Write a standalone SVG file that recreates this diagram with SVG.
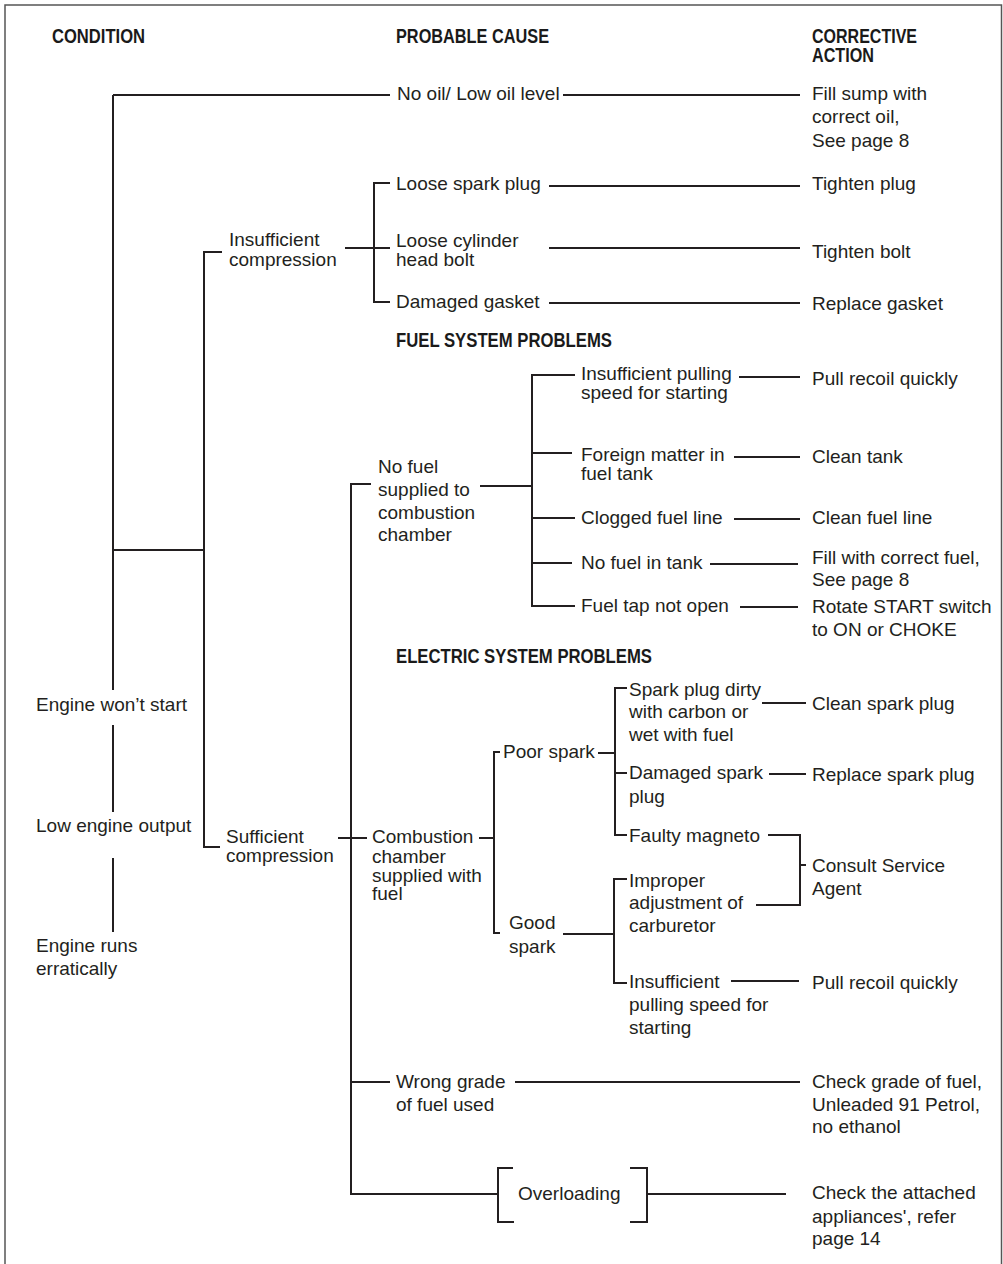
<svg xmlns="http://www.w3.org/2000/svg" width="1003" height="1264" viewBox="0 0 1003 1264">
<style>
.t{font-family:"Liberation Sans",Arial,Helvetica,sans-serif;font-size:19px;fill:#231f20}
.h{font-family:"Liberation Sans",Arial,Helvetica,sans-serif;font-size:20px;font-weight:bold;fill:#1a1a1a}
.c{stroke:#231f20;stroke-width:2;fill:none}
.b{stroke:#555;stroke-width:1.5;fill:none}
</style>
<rect class="b" x="5" y="5" width="996.5" height="1275"/>
<g id="headers">
<text class="h" x="52" y="43" textLength="93" lengthAdjust="spacingAndGlyphs">CONDITION</text>
<text class="h" x="396" y="43" textLength="153" lengthAdjust="spacingAndGlyphs">PROBABLE CAUSE</text>
<text class="h" x="812" y="43" textLength="105" lengthAdjust="spacingAndGlyphs">CORRECTIVE</text>
<text class="h" x="812" y="62" textLength="62" lengthAdjust="spacingAndGlyphs">ACTION</text>
<text class="h" x="396" y="347" textLength="216" lengthAdjust="spacingAndGlyphs">FUEL SYSTEM PROBLEMS</text>
<text class="h" x="396" y="663" textLength="256" lengthAdjust="spacingAndGlyphs">ELECTRIC SYSTEM PROBLEMS</text>
</g>
<g id="connectors">
<path class="c" d="M113,95 V690 M113,725 V812 M113,858 V932 M113,95 H390 M563,95 H800"/>
<path class="c" d="M113,550 H204 M222,252 H204 V847 H220"/>
<path class="c" d="M345,248 H390 M390,183 H374 V302 H390"/>
<path class="c" d="M549,186 H800 M549,248 H800 M549,303 H800"/>
<path class="c" d="M371,484 H351 V1194 H498 M480,486 H532"/>
<path class="c" d="M575,375 H532 V606 H575 M532,453 H572 M532,518 H575 M532,563 H572"/>
<path class="c" d="M739,377 H800 M734,457 H800 M734,519 H800 M710,564 H798 M740,607 H798"/>
<path class="c" d="M338,838 H367 M479,838 H494 M500,752 H494 V933 H500"/>
<path class="c" d="M598,753 H615 M627,688 H615 V835 H627 M615,773 H627"/>
<path class="c" d="M762,703 H806 M769,774 H806 M768,835 H800 V905 H756 M800,865 H806"/>
<path class="c" d="M563,934 H614 M627,879 H614 V983 H627 M731,981 H799"/>
<path class="c" d="M351,1082 H390 M515,1082 H800"/>
<path class="c" d="M513,1168 H498 V1222 H514 M630,1168 H647 V1222 H630 M647,1194 H786"/>
</g>
<g id="cond-wont-start"><text class="t" x="36" y="711">Engine won’t start</text></g>
<g id="cond-low-output"><text class="t" x="36" y="832">Low engine output</text></g>
<g id="cond-erratic"><text class="t" x="36" y="952">Engine runs</text><text class="t" x="36" y="975">erratically</text></g>
<g id="cause-no-oil"><text class="t" x="397" y="100">No oil/ Low oil level</text></g>
<g id="act-fill-sump"><text class="t" x="812" y="100">Fill sump with</text><text class="t" x="812" y="123">correct oil,</text><text class="t" x="812" y="147">See page 8</text></g>
<g id="insufficient-compression"><text class="t" x="229" y="246">Insufficient</text><text class="t" x="229" y="266">compression</text></g>
<g id="sufficient-compression"><text class="t" x="226" y="843">Sufficient</text><text class="t" x="226" y="862">compression</text></g>
<g id="cause-loose-plug"><text class="t" x="396" y="190">Loose spark plug</text></g>
<g id="act-tighten-plug"><text class="t" x="812" y="190">Tighten plug</text></g>
<g id="cause-loose-bolt"><text class="t" x="396" y="247">Loose cylinder</text><text class="t" x="396" y="266">head bolt</text></g>
<g id="act-tighten-bolt"><text class="t" x="812" y="258">Tighten bolt</text></g>
<g id="cause-gasket"><text class="t" x="396" y="308">Damaged gasket</text></g>
<g id="act-gasket"><text class="t" x="812" y="310">Replace gasket</text></g>
<g id="no-fuel-supplied"><text class="t" x="378" y="473">No fuel</text><text class="t" x="378" y="496">supplied to</text><text class="t" x="378" y="519">combustion</text><text class="t" x="378" y="541">chamber</text></g>
<g id="cause-pull-speed-1"><text class="t" x="581" y="380">Insufficient pulling</text><text class="t" x="581" y="399">speed for starting</text></g>
<g id="act-pull-1"><text class="t" x="812" y="385">Pull recoil quickly</text></g>
<g id="cause-foreign"><text class="t" x="581" y="461">Foreign matter in</text><text class="t" x="581" y="480">fuel tank</text></g>
<g id="act-clean-tank"><text class="t" x="812" y="463">Clean tank</text></g>
<g id="cause-clogged"><text class="t" x="581" y="524">Clogged fuel line</text></g>
<g id="act-clean-line"><text class="t" x="812" y="524">Clean fuel line</text></g>
<g id="cause-no-fuel-tank"><text class="t" x="581" y="569">No fuel in tank</text></g>
<g id="act-fill-fuel"><text class="t" x="812" y="564">Fill with correct fuel,</text><text class="t" x="812" y="586">See page 8</text></g>
<g id="cause-tap"><text class="t" x="581" y="612">Fuel tap not open</text></g>
<g id="act-rotate"><text class="t" x="812" y="613">Rotate START switch</text><text class="t" x="812" y="636">to ON or CHOKE</text></g>
<g id="combustion-supplied"><text class="t" x="372" y="843">Combustion</text><text class="t" x="372" y="863">chamber</text><text class="t" x="372" y="882">supplied with</text><text class="t" x="372" y="900">fuel</text></g>
<g id="poor-spark"><text class="t" x="503" y="758">Poor spark</text></g>
<g id="good-spark"><text class="t" x="509" y="929">Good</text><text class="t" x="509" y="953">spark</text></g>
<g id="cause-dirty-plug"><text class="t" x="629" y="696">Spark plug dirty</text><text class="t" x="629" y="718">with carbon or</text><text class="t" x="629" y="741">wet with fuel</text></g>
<g id="act-clean-plug"><text class="t" x="812" y="710">Clean spark plug</text></g>
<g id="cause-damaged-plug"><text class="t" x="629" y="779">Damaged spark</text><text class="t" x="629" y="803">plug</text></g>
<g id="act-replace-plug"><text class="t" x="812" y="781">Replace spark plug</text></g>
<g id="cause-magneto"><text class="t" x="629" y="842">Faulty magneto</text></g>
<g id="act-consult"><text class="t" x="812" y="872">Consult Service</text><text class="t" x="812" y="895">Agent</text></g>
<g id="cause-carburetor"><text class="t" x="629" y="887">Improper</text><text class="t" x="629" y="909">adjustment of</text><text class="t" x="629" y="932">carburetor</text></g>
<g id="cause-pull-speed-2"><text class="t" x="629" y="988">Insufficient</text><text class="t" x="629" y="1011">pulling speed for</text><text class="t" x="629" y="1034">starting</text></g>
<g id="act-pull-2"><text class="t" x="812" y="989">Pull recoil quickly</text></g>
<g id="cause-wrong-grade"><text class="t" x="396" y="1088">Wrong grade</text><text class="t" x="396" y="1111">of fuel used</text></g>
<g id="act-check-grade"><text class="t" x="812" y="1088">Check grade of fuel,</text><text class="t" x="812" y="1111">Unleaded 91 Petrol,</text><text class="t" x="812" y="1133">no ethanol</text></g>
<g id="cause-overloading"><text class="t" x="518" y="1200">Overloading</text></g>
<g id="act-check-appliances"><text class="t" x="812" y="1199">Check the attached</text><text class="t" x="812" y="1223">appliances', refer</text><text class="t" x="812" y="1245">page 14</text></g>
</svg>
